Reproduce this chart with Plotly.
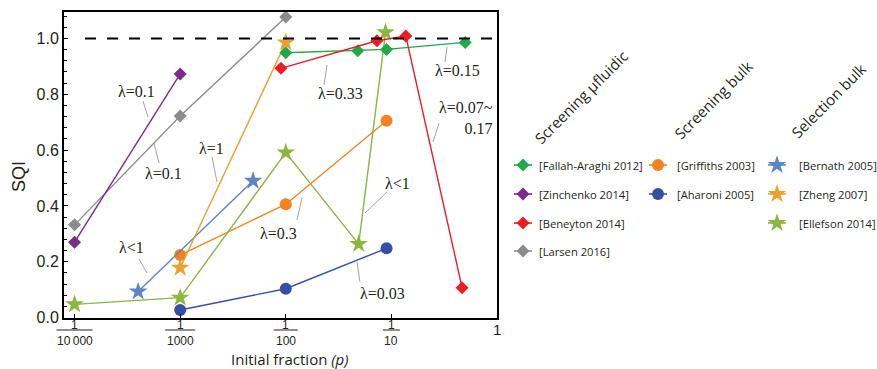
import math
import plotly.graph_objects as go

W, H = 877, 369

# ---------------- data ----------------
larsen_x = [1e-4, 1e-3, 1e-2]
larsen_y = [0.332, 0.722, 1.077]
zinchenko_x = [1e-4, 1e-3]
zinchenko_y = [0.270, 0.873]
fallah_x = [1e-2, 0.048, 0.090, 0.50]
fallah_y = [0.949, 0.956, 0.961, 0.986]
beneyton_x = [0.009, 0.073, 0.137, 0.467]
beneyton_y = [0.893, 0.992, 1.009, 0.107]
griffiths_x = [1e-3, 1e-2, 0.09]
griffiths_y = [0.224, 0.406, 0.705]
aharoni_x = [1e-3, 1e-2, 0.09]
aharoni_y = [0.027, 0.103, 0.248]
bernath_x = [4.0e-4, 4.9e-3]
bernath_y = [0.093, 0.490]
zheng_x = [1e-3, 1e-2]
zheng_y = [0.178, 0.986]
ellefson_x = [1e-4, 1e-3, 1e-2, 0.049, 0.088]
ellefson_y = [0.047, 0.071, 0.591, 0.263, 1.022]

tick_vals = [1e-4, 1e-3, 1e-2, 1e-1, 1]
tick_denoms = ["10\u2009000", "1000", "100", "10"]
y_ticks = [0.0, 0.2, 0.4, 0.6, 0.8, 1.0]
reference_sqi = 1.0

series = [
    # name, x, y, colour, symbol, size, group column, row
    ("[Larsen 2016]", larsen_x, larsen_y, "#8c8c8c", "diamond", 10, 0, 3),
    ("[Zinchenko 2014]", zinchenko_x, zinchenko_y, "#7d2b8b", "diamond", 10, 0, 1),
    ("[Griffiths 2003]", griffiths_x, griffiths_y, "#f58220", "circle", 12, 1, 0),
    ("[Aharoni 2005]", aharoni_x, aharoni_y, "#3550a3", "circle", 12, 1, 1),
    ("[Bernath 2005]", bernath_x, bernath_y, "#5b86c5", "star", 14, 2, 0),
    ("[Zheng 2007]", zheng_x, zheng_y, "#e9a230", "star", 14, 2, 1),
    ("[Ellefson 2014]", ellefson_x, ellefson_y, "#8db53f", "star", 14, 2, 2),
    ("[Fallah-Araghi 2012]", fallah_x, fallah_y, "#21a84a", "diamond", 10, 0, 0),
    ("[Beneyton 2014]", beneyton_x, beneyton_y, "#ed1c24", "diamond", 10, 0, 2),
]

group_titles = ["Screening \u00b5fluidic", "Screening bulk", "Selection bulk"]

lambda_labels = ["\u03bb=0.1", "\u03bb=0.1", "\u03bb=1", "\u03bb<1", "\u03bb=0.3",
                 "\u03bb<1", "\u03bb=0.03", "\u03bb=0.33", "\u03bb=0.15"]

# ---------------- layout geometry (pixels) ----------------
PL, PR, PT, PB = 64, 497, 12, 317.5
XR = [-4.1, 0.0]
YR = [0.0, 1.095]

def xpix(v):
    return PL + (math.log10(v) - XR[0]) / (XR[1] - XR[0]) * (PR - PL)

lab_pos = [(136, 91), (163, 173), (211, 148), (131, 247), (278, 233),
           (397, 183), (382, 293), (340, 93), (457, 70)]
leaders = [((143, 101), (148, 117)), ((154, 143), (159, 163)),
           ((212, 157), (217, 182)), ((139, 259), (147, 273)),
           ((302, 198), (297, 220)), ((387, 192), (365, 213)),
           ((357, 262), (360, 282)), ((327, 65), (324, 85)),
           ((447, 47), (445, 62)), ((439, 123), (433, 142))]

leg_sym_x = [523, 658, 777]
leg_txt_x = [537, 675, 797]
leg_row_y = [165, 194, 223, 251]
title_pos = [(581, 97), (713, 100), (828, 101)]

fig = go.Figure()

for name, xs, ys, col, sym, sz, gc, gr in series:
    fig.add_trace(go.Scatter(
        x=xs, y=ys, mode="lines+markers", name=name, showlegend=False,
        line=dict(color=col, width=1.4),
        marker=dict(symbol=sym, size=sz, color=col, line=dict(width=0)),
        cliponaxis=False, xaxis="x", yaxis="y"))

# legend samples on a pixel overlay axis
for name, xs, ys, col, sym, sz, gc, gr in series:
    sx, sy = leg_sym_x[gc], leg_row_y[gr]
    fig.add_trace(go.Scatter(
        x=[sx - 9, sx + 9], y=[sy, sy], mode="lines", showlegend=False,
        line=dict(color=col, width=1.6), xaxis="x2", yaxis="y2", hoverinfo="skip"))
    fig.add_trace(go.Scatter(
        x=[sx], y=[sy], mode="markers", showlegend=False,
        marker=dict(symbol=sym, size=sz, color=col, line=dict(width=0)),
        xaxis="x2", yaxis="y2", hoverinfo="skip"))

annotations = []
shapes = []

for name, xs, ys, col, sym, sz, gc, gr in series:
    annotations.append(dict(
        x=leg_txt_x[gc], y=leg_row_y[gr], xref="x2", yref="y2", text=name,
        showarrow=False, xanchor="left", yanchor="middle",
        font=dict(family="Open Sans", size=11.2, color="#231f20")))

for t, (tx, ty) in zip(group_titles, title_pos):
    annotations.append(dict(
        x=tx, y=ty, xref="x2", yref="y2", text=t, showarrow=False,
        textangle=-45, xanchor="center", yanchor="middle",
        font=dict(family="Open Sans", size=15, color="#231f20")))

for t, (tx, ty) in zip(lambda_labels, lab_pos):
    annotations.append(dict(
        x=tx, y=ty, xref="x2", yref="y2", text=t, showarrow=False,
        xanchor="center", yanchor="middle",
        font=dict(family="Liberation Serif", size=16, color="#231f20")))
annotations.append(dict(
    x=495, y=118, xref="x2", yref="y2", text="\u03bb=0.07~<br>0.17",
    showarrow=False, xanchor="right", yanchor="middle", align="right",
    font=dict(family="Liberation Serif", size=16, color="#231f20")))

for (a, b) in leaders:
    shapes.append(dict(type="line", xref="x2", yref="y2",
                       x0=a[0], y0=a[1], x1=b[0], y1=b[1],
                       line=dict(color="#8a8a8a", width=0.8)))

# fraction tick labels
bar_w = [36, 30, 24, 17]
for v, d, bw in zip(tick_vals[:4], tick_denoms, bar_w):
    px = xpix(v)
    annotations.append(dict(x=px, y=325, xref="x2", yref="y2", text="1",
                            showarrow=False, xanchor="center", yanchor="middle",
                            font=dict(family="Liberation Sans", size=12, color="#231f20")))
    annotations.append(dict(x=px, y=341, xref="x2", yref="y2", text=d,
                            showarrow=False, xanchor="center", yanchor="middle",
                            font=dict(family="Liberation Sans", size=12, color="#231f20")))
    shapes.append(dict(type="line", xref="x2", yref="y2",
                       x0=px - bw / 2, x1=px + bw / 2, y0=330, y1=330,
                       line=dict(color="#231f20", width=1)))
annotations.append(dict(x=xpix(tick_vals[4]), y=329, xref="x2", yref="y2", text="1",
                        showarrow=False, xanchor="center", yanchor="middle",
                        font=dict(family="Liberation Sans", size=15, color="#231f20")))

# axis titles
annotations.append(dict(x=19, y=177, xref="x2", yref="y2", text="SQI",
                        showarrow=False, textangle=-90, xanchor="center", yanchor="middle",
                        font=dict(family="Liberation Sans", size=18, color="#231f20")))
annotations.append(dict(x=290, y=359, xref="x2", yref="y2",
                        text="Initial fraction <i>(p)</i>",
                        showarrow=False, xanchor="center", yanchor="middle",
                        font=dict(family="Open Sans", size=15, color="#231f20")))

# dashed reference line at SQI = 1
shapes.append(dict(type="line", xref="x domain", yref="y",
                   x0=21 / (PR - PL), x1=1, y0=reference_sqi, y1=reference_sqi,
                   line=dict(color="black", width=2, dash="11px,11px")))

fig.update_layout(
    width=W, height=H, autosize=False,
    margin=dict(l=0, r=0, t=0, b=0),
    paper_bgcolor="white", plot_bgcolor="rgba(0,0,0,0)",
    showlegend=False,
    xaxis=dict(type="log", range=XR, domain=[PL / W, PR / W], anchor="y",
               tickvals=tick_vals, showticklabels=False, ticks="inside",
               ticklen=4, tickwidth=1.2, tickcolor="black",
               showline=True, linewidth=2, linecolor="black", mirror=True,
               showgrid=False, zeroline=False, automargin=False),
    yaxis=dict(range=YR, domain=[(H - PB) / H, (H - PT) / H], anchor="x",
               tickvals=y_ticks, tickformat=".1f", ticks="inside",
               ticklen=4, tickwidth=1.2, tickcolor="black",
               minor=dict(tick0=0, dtick=0.04, ticks="inside", ticklen=2.5,
                          tickcolor="black", tickwidth=1),
               showline=True, linewidth=2, linecolor="black", mirror=True,
               showgrid=False, zeroline=False, automargin=False,
               tickfont=dict(family="Liberation Sans", size=16, color="#231f20")),
    xaxis2=dict(domain=[0, 1], range=[0, W], visible=False, anchor="y2",
                fixedrange=True),
    yaxis2=dict(domain=[0, 1], range=[H, 0], visible=False, anchor="x2",
                fixedrange=True),
    annotations=annotations,
    shapes=shapes,
)

fig.write_html(
    "out.html",
    config={"displayModeBar": False},
    post_script="document.body.style.margin='0';document.body.style.overflow='hidden';",
)
